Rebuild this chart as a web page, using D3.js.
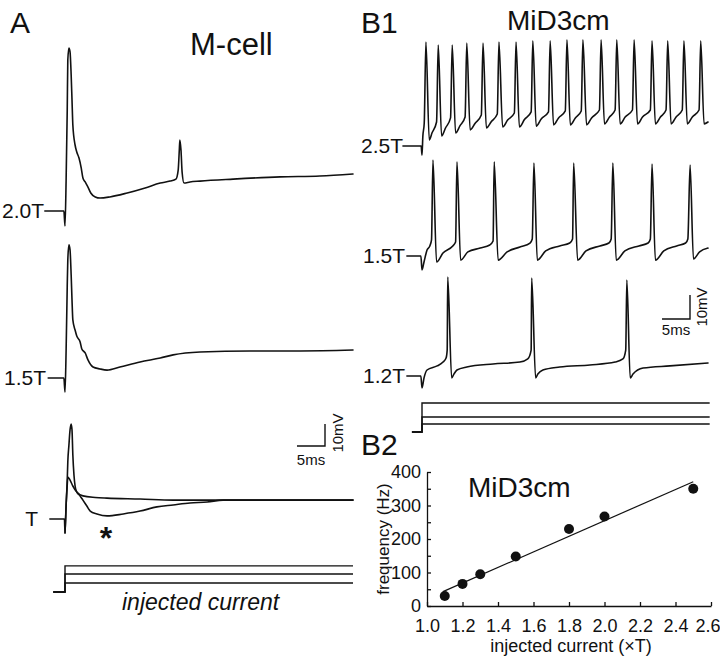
<!DOCTYPE html>
<html><head><meta charset="utf-8">
<script src="https://cdn.jsdelivr.net/npm/d3@7"></script>
<style>
body{margin:0;background:#fff}
svg{display:block;font-family:"Liberation Sans",Arial,sans-serif}
</style>
</head><body>
<svg id="fig" width="720" height="661"></svg>
<script>
// ================= DATA =================
// Panel A traces: [time (ms from current onset), membrane potential (mV re. baseline)]
const traceA_2_0T = [[-3.6,0],[-0.2,0],[0,-6.8],[0.2,14.1],[0.4,45.9],[0.5,68.6],[0.7,74.1],[0.9,72.3],[1.1,61.8],[1.25,50.5],[1.4,39.1],[1.8,30.0],[2.1,26.8],[2.5,24.1],[2.9,19.5],[3.2,15.0],[3.6,13.2],[4.1,10.9],[4.6,8.2],[5.4,6.4],[6.25,5.9],[8.0,6.4],[11.1,8.2],[14.3,10.5],[17.0,12.7],[18.75,13.6],[19.8,14.5],[20.2,18.6],[20.4,27.7],[20.5,32.3],[20.7,27.7],[20.9,17.7],[21.25,12.7],[22.3,13.2],[24.1,13.6],[30.0,14.5],[38.4,15.5],[45.5,15.9],[51.4,16.8]];
const traceA_1_5T = [[-3.0,0],[-0.2,0],[0,-6.4],[0.2,12.7],[0.4,41.8],[0.5,53.6],[0.7,60.5],[0.9,58.2],[1.1,46.8],[1.25,35.5],[1.4,26.4],[1.8,21.8],[2.1,19.1],[2.7,16.4],[3.0,13.2],[3.6,11.4],[4.1,8.2],[5.0,5.0],[6.25,4.1],[7.5,3.6],[9.8,5.0],[13.4,7.3],[17.0,9.1],[19.3,10.5],[24.1,11.8],[33.0,12.3],[42.0,12.3],[51.4,12.7]];
const traceA_T_spike = [[-2.7,0],[-0.1,0],[0,-6.4],[0.2,6.4],[0.4,17.7],[0.5,25.9],[0.7,33.6],[0.9,40.5],[1.1,43.2],[1.25,40.5],[1.4,29.1],[1.6,20.0],[1.8,15.0],[2.1,12.3],[2.7,10.5],[3.2,8.6],[3.9,5.9],[4.5,3.6],[5.7,2.3],[7.5,1.4],[10.4,2.3],[13.4,3.6],[16.4,5.5],[19.3,6.4],[22.3,7.3],[25.4,7.7],[28.2,8.6],[38.4,8.6],[51.4,8.6]];
const traceA_T_sub = [[0,-6.4],[0.2,6.4],[0.4,15.5],[0.5,19.1],[0.9,17.7],[1.4,15.0],[2.1,12.3],[3.2,10.5],[5.4,9.8],[7.5,9.5],[13.4,9.1],[19.3,8.6],[51.4,8.6]];

// Panel B1 traces
const traceB_2_5T = [[-3.4,0],[-0.15,0],[0,-3.8],[0.15,4],[0.4,9.6],
[0.7,43.3],[1.3,2.5],[1.8,5.5],[2.6,10.0],
[2.9,42.1],[3.5,4.2],[4.2,7.5],[5.1,11.7],
[5.4,42.1],[6.0,5.4],[6.8,8.5],[7.7,12.1],
[8.0,42.9],[8.6,6.7],[9.5,9.5],[10.6,12.9],
[10.9,42.9],[11.5,7.5],[12.4,10.2],[13.45,13.3],
[13.75,43.3],[14.4,7.9],[15.3,10.8],[16.5,13.75],
[16.8,43.3],[17.4,7.9],[18.3,11.0],[19.5,14.2],
[19.8,43.8],[20.4,8.3],[21.3,11.3],[22.6,14.2],
[22.9,43.8],[23.5,8.8],[24.4,11.7],[25.6,14.6],
[25.9,44.2],[26.5,8.8],[27.4,11.7],[28.45,14.6],
[28.75,44.2],[29.4,8.8],[30.3,11.7],[31.7,15.0],
[32.0,44.2],[32.6,9.2],[33.5,12.1],[34.5,15.0],
[34.8,44.2],[35.4,9.2],[36.3,12.1],[37.6,15.0],
[37.9,44.2],[38.5,9.2],[39.4,12.1],[40.8,15.0],
[41.1,43.8],[41.7,9.2],[42.6,12.1],[43.6,15.0],
[43.9,43.8],[44.5,9.2],[45.4,12.1],[46.5,15.0],
[46.8,43.8],[47.4,9.2],[48.3,12.1],[49.5,15.0],
[49.8,43.8],[50.4,9.2],[51.1,10.0]];
const traceB_1_5T = [[-2.7,0],[-0.2,0],[0,-5.8],[0.36,-2.5],[0.9,2.5],[1.4,4.2],[1.7,6.7],
[1.96,40.0],[2.6,-2.5],[3.75,1.25],[5.5,4.2],[6.0,5.8],
[6.25,39.2],[6.9,-1.7],[8.2,1.7],[10.4,3.3],[12.1,4.6],[12.7,6.25],
[12.9,39.2],[13.6,-1.7],[15.2,1.7],[17.5,3.75],[19.3,5.4],[19.7,7.1],
[20.0,38.75],[20.6,-1.7],[22.1,2.1],[24.6,4.2],[26.4,5.4],[26.9,7.1],
[27.1,38.75],[27.8,-1.7],[29.3,2.1],[31.8,4.2],[33.4,5.4],[33.8,7.1],
[34.1,38.75],[34.7,-1.7],[36.25,2.1],[38.75,4.2],[40.4,5.4],[40.8,7.1],
[41.1,38.3],[41.7,-1.7],[43.2,2.1],[45.5,4.2],[47.1,5.4],[47.5,7.1],
[47.9,37.9],[48.5,-1.25],[49.6,1.7],[51.1,3.3]];
const traceB_1_2T = [[-2.7,0],[-0.2,0],[0,-5.0],[0.36,-0.8],[0.9,2.5],[2.7,4.2],[3.75,5.8],[4.3,7.5],[4.5,10.8],
[4.6,41.25],[5.3,-0.8],[5.7,0.8],[6.25,2.5],[8.0,3.75],[12.7,5.0],[17.5,5.8],[18.9,7.1],[19.5,10.8],
[19.6,40.8],[20.3,-0.8],[20.7,0.8],[21.6,2.5],[24.6,3.75],[30.0,4.6],[34.5,5.8],[35.9,7.1],[36.4,10.8],
[36.6,40.0],[37.2,-0.8],[37.7,0.8],[39.5,3.3],[44.3,4.2],[51.1,5.4]];

const traceLabelsA = ["2.0T","1.5T","T"];
const traceLabelsB = ["2.5T","1.5T","1.2T"];

// injected current steps (arbitrary units) and timing (ms)
const currentLevelsA = [1.0, 2.0, 2.9];
const currentTimesA = [-2.1, 0, 51.4];
const currentLevelsB = [0.8, 1.5, 2.9];
const currentTimesB = [-1.8, 0, 51.4];

// scale bars
const scaleBarMs = 5;
const scaleBarMv = 10;

// Panel B2: firing frequency vs injected current
const injectedCurrent = [1.1, 1.2, 1.3, 1.5, 1.8, 2.0, 2.5];
const frequencyHz = [30, 66, 95, 148, 230, 267, 350];
const fitLine = [[1.09, 43], [2.5, 371]];
const xTicksB2 = [1.0, 1.2, 1.4, 1.6, 1.8, 2.0, 2.2, 2.4, 2.6];
const yTicksB2 = [0, 50, 100, 150, 200, 250, 300, 350, 400];

// ================= DRAWING =================
const svg = d3.select("#fig");
const ink = "#111";
const FONT = '"Liberation Sans", Arial, sans-serif';

function txt(x, y, s, size, opts = {}) {
  const t = svg.append("text").attr("x", x).attr("y", y).text(s)
    .attr("font-size", size).attr("fill", ink)
    .attr("text-anchor", opts.anchor || "start");
  if (opts.italic) t.attr("font-style", "italic");
  if (opts.rotate) t.attr("transform", `rotate(-90,${x},${y})`);
  if (opts.weight) t.attr("font-weight", opts.weight);
  return t;
}

const lineGen = (xs, ys) => d3.line().x(d => xs(d[0])).y(d => ys(d[1])).curve(d3.curveMonotoneX);
function drawTrace(data, xs, ys, w = 1.6) {
  svg.append("path").datum(data).attr("d", lineGen(xs, ys))
    .attr("fill", "none").attr("stroke", ink).attr("stroke-width", w)
    .attr("stroke-linejoin", "round").attr("stroke-linecap", "round");
}

// ---------- Panel A ----------
const xA = d3.scaleLinear().domain([0, 51.4]).range([65, 353]);
const yAfor = base => d3.scaleLinear().domain([0, 10]).range([base, base - 22]);
const baseA = [211, 378, 519];
const tracesA = [[traceA_2_0T], [traceA_1_5T], [traceA_T_sub, traceA_T_spike]];
tracesA.forEach((group, i) => {
  const ys = yAfor(baseA[i]);
  group.forEach(tr => drawTrace(tr, xA, ys));
});
const labelEndA = [44, 46, 38];
traceLabelsA.forEach((l, i) => txt(labelEndA[i], baseA[i] + 7, l, 21, {anchor: "end"}));

txt(10, 33, "A", 30);
txt(190, 55, "M-cell", 31);
txt(106, 549, "*", 32, {anchor: "middle", weight: "bold"});

// scale bar A
{
  const x1 = 325, y1 = 446;
  const len = xA(scaleBarMs) - xA(0);
  const ys = yAfor(0);
  const h = ys(0) - ys(scaleBarMv);
  svg.append("path").attr("d", `M${x1 - len},${y1}H${x1}V${y1 - h}`)
    .attr("fill", "none").attr("stroke", ink).attr("stroke-width", 1.4);
  txt(x1 - len / 2, 465, `${scaleBarMs}ms`, 15, {anchor: "middle"});
  txt(343, y1 - h / 2 - 2, `${scaleBarMv}mV`, 15, {anchor: "middle", rotate: true});
}

// current A
{
  const yC = d3.scaleLinear().domain([0, 1]).range([592, 583]);
  currentLevelsA.forEach(L => {
    const pts = [[currentTimesA[0], 0], [currentTimesA[1], 0], [currentTimesA[1], L], [currentTimesA[2], L]];
    svg.append("path").datum(pts).attr("d", d3.line().x(d => xA(d[0])).y(d => yC(d[1])))
      .attr("fill", "none").attr("stroke", ink).attr("stroke-width", 1.4);
  });
  txt(122, 610, "injected current", 23, {italic: true});
}

// ---------- Panel B1 ----------
const xB = d3.scaleLinear().domain([0, 51.1]).range([422, 708]);
const yBfor = base => d3.scaleLinear().domain([0, 10]).range([base, base - 24]);
const baseB = [146, 256, 376];
[traceB_2_5T, traceB_1_5T, traceB_1_2T].forEach((tr, i) => drawTrace(tr, xB, yBfor(baseB[i])));
const labelEndB = [403, 405, 405];
traceLabelsB.forEach((l, i) => txt(labelEndB[i], baseB[i] + 7, l, 21, {anchor: "end"}));

txt(361, 33, "B1", 30);
txt(507, 30, "MiD3cm", 28);

// scale bar B1
{
  const x1 = 690, y1 = 319;
  const len = xB(scaleBarMs) - xB(0);
  const ys = yBfor(0);
  const h = ys(0) - ys(scaleBarMv);
  svg.append("path").attr("d", `M${x1 - len},${y1}H${x1}V${y1 - h}`)
    .attr("fill", "none").attr("stroke", ink).attr("stroke-width", 1.4);
  txt(x1 - len / 2, 335, `${scaleBarMs}ms`, 15, {anchor: "middle"});
  txt(707, y1 - h / 2, `${scaleBarMv}mV`, 15, {anchor: "middle", rotate: true});
}

// current B
{
  const yC = d3.scaleLinear().domain([0, 1]).range([432, 422]);
  currentLevelsB.forEach(L => {
    const pts = [[currentTimesB[0], 0], [currentTimesB[1], 0], [currentTimesB[1], L], [currentTimesB[2], L]];
    svg.append("path").datum(pts).attr("d", d3.line().x(d => xB(d[0])).y(d => yC(d[1])))
      .attr("fill", "none").attr("stroke", ink).attr("stroke-width", 1.4);
  });
}

// ---------- Panel B2 ----------
txt(361, 455, "B2", 30);
const x2 = d3.scaleLinear().domain([1.0, 2.6]).range([427, 711]);
const y2 = d3.scaleLinear().domain([0, 400]).range([606, 472]);

const gx = svg.append("g").attr("transform", "translate(0,606)")
  .call(d3.axisBottom(x2).tickValues(xTicksB2).tickFormat(d3.format(".1f"))
    .tickSize(-4).tickSizeOuter(0).tickPadding(13));
const gy = svg.append("g").attr("transform", "translate(427,0)")
  .call(d3.axisLeft(y2).tickValues(yTicksB2).tickFormat(d => d % 100 === 0 ? d : "")
    .tickSize(-4).tickSizeOuter(0).tickPadding(6));
[gx, gy].forEach(g => {
  g.selectAll("path,line").attr("stroke", ink).attr("stroke-width", 1.3);
  g.selectAll("text").attr("font-size", 18).attr("fill", ink).attr("font-family", FONT);
});
// keep the last x tick label inside the picture
gx.selectAll(".tick text").filter(d => d === 2.6).attr("text-anchor", "end").attr("dx", 9);

svg.append("path").datum(fitLine)
  .attr("d", d3.line().x(d => x2(d[0])).y(d => y2(d[1])))
  .attr("stroke", ink).attr("stroke-width", 1.2).attr("fill", "none");
svg.append("g").selectAll("circle")
  .data(injectedCurrent.map((c, i) => [c, frequencyHz[i]]))
  .join("circle").attr("cx", d => x2(d[0])).attr("cy", d => y2(d[1])).attr("r", 5).attr("fill", ink);

txt(468, 497, "MiD3cm", 28);
txt(571, 652, "injected current (×T)", 18, {anchor: "middle"});
txt(389, 539, "frequency (Hz)", 17, {anchor: "middle", rotate: true});
</script>
</body></html>
